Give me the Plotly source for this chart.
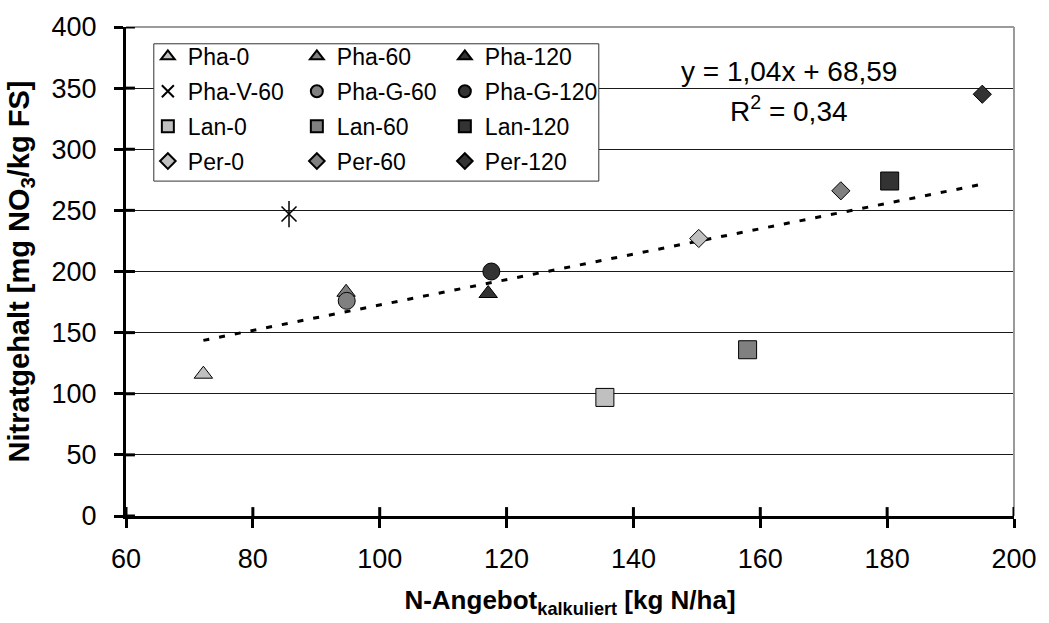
import plotly.graph_objects as go

# Variants and their measured values
variants = ["Pha-0", "Pha-60", "Pha-120",
            "Pha-V-60", "Pha-G-60", "Pha-G-120",
            "Lan-0", "Lan-60", "Lan-120",
            "Per-0", "Per-60", "Per-120"]
n_supply = [72.2, 94.7, 117.1,
            85.7, 94.8, 117.6,
            135.5, 158.0, 180.4,
            150.3, 172.7, 195.0]
nitrate = [116, 183, 182,
           247, 176, 200,
           97, 136, 274,
           227, 266, 345]

# Linear trend reported for the data
slope = 1.04
intercept = 68.59
r_squared = 0.34

x_ticks = [60, 80, 100, 120, 140, 160, 180, 200]
y_ticks = [0, 50, 100, 150, 200, 250, 300, 350, 400]

FONT = "Liberation Sans, Arial, sans-serif"
LIGHT, MID, DARK = "#c0c0c0", "#808080", "#333333"

styles = {
    "Pha-0": ("triangle-up", LIGHT, 16),
    "Pha-60": ("triangle-up", MID, 16),
    "Pha-120": ("triangle-up", DARK, 16),
    "Pha-V-60": ("x-thin-open", "black", 15),
    "Pha-G-60": ("circle", MID, 17),
    "Pha-G-120": ("circle", DARK, 17),
    "Lan-0": ("square", LIGHT, 18),
    "Lan-60": ("square", MID, 18),
    "Lan-120": ("square", DARK, 18),
    "Per-0": ("diamond", LIGHT, 14),
    "Per-60": ("diamond", MID, 14),
    "Per-120": ("diamond", DARK, 14),
}

W, H = 1049, 623
ml, mr, mt, mb = 126, 29, 21, 107
pw, ph = W - ml - mr, H - mt - mb
TICK_IN = 9  # inner half of the crossing tick marks, px


def px_x(p):
    return (p - ml) / pw


def px_y(p):
    return (H - mb - p) / ph


fig = go.Figure()

# trend line over the range of the data
x_fit = [min(n_supply), max(n_supply)]
y_fit = [slope * v + intercept for v in x_fit]
fig.add_trace(go.Scatter(
    x=x_fit, y=y_fit, mode="lines", showlegend=False, hoverinfo="skip",
    line=dict(color="black", width=3, dash="6px,10px"),
))

legend_ids = ["legend", "legend2", "legend3"]
for i, name in enumerate(variants):
    symbol, color, size = styles[name]
    if symbol.endswith("-open"):
        marker = dict(symbol=symbol, size=size, color="black",
                      line=dict(color="black", width=1.5))
    else:
        marker = dict(symbol=symbol, size=size, color=color,
                      line=dict(color="black", width=1))
    fig.add_trace(go.Scatter(
        x=[n_supply[i]], y=[nitrate[i]], mode="markers", name=name,
        marker=marker, legend=legend_ids[i % 3], legendgroup=name,
    ))
    if name == "Pha-V-60":
        # vertical stroke completing the star marker
        fig.add_trace(go.Scatter(
            x=[n_supply[i]], y=[nitrate[i]], mode="markers", showlegend=False,
            hoverinfo="skip",
            marker=dict(symbol="line-ns-open", size=size * 1.25, color="black",
                        line=dict(color="black", width=1.5)),
        ))

slope_txt = f"{slope:.2f}".replace(".", ",")
icpt_txt = f"{intercept:.2f}".replace(".", ",")
r2_txt = f"{r_squared:.2f}".replace(".", ",")

shapes = [
    # top and right frame of the plot area
    dict(type="line", xref="paper", yref="paper", x0=0, x1=1, y0=1, y1=1,
         line=dict(color="#9a9a9a", width=2), layer="above"),
    dict(type="line", xref="paper", yref="paper", x0=1, x1=1, y0=0, y1=1,
         line=dict(color="#9a9a9a", width=2), layer="above"),
    # legend box
    dict(type="rect", xref="paper", yref="paper",
         x0=px_x(154), x1=px_x(602), y0=px_y(177), y1=px_y(38),
         line=dict(color="#333333", width=1), fillcolor="white",
         layer="above"),
]
# inner halves of the tick marks, so that they cross the axis lines
for v in x_ticks:
    shapes.append(dict(type="line", xref="x", yref="paper", x0=v, x1=v,
                       y0=0, y1=TICK_IN / ph, layer="above",
                       line=dict(color="black", width=3)))
for v in y_ticks:
    shapes.append(dict(type="line", xref="paper", yref="y", y0=v, y1=v,
                       x0=0, x1=TICK_IN / pw, layer="above",
                       line=dict(color="black", width=3)))

legend_common = dict(
    font=dict(family=FONT, size=23, color="black"),
    bgcolor="rgba(0,0,0,0)", borderwidth=0, itemsizing="constant",
    xanchor="left", yanchor="top", tracegroupgap=2,
    y=px_y(29), itemclick=False, itemdoubleclick=False,
)

fig.update_layout(
    width=W, height=H,
    margin=dict(l=ml, r=mr, t=mt, b=mb),
    paper_bgcolor="white", plot_bgcolor="white",
    font=dict(family=FONT, size=27, color="black"),
    xaxis=dict(
        range=[60, 200], tickvals=x_ticks, ticks="outside", ticklen=9,
        tickwidth=3, tickcolor="black", showline=True, linewidth=3,
        linecolor="black", showgrid=False, zeroline=False,
        ticklabelstandoff=8,
        tickfont=dict(size=27),
        title=dict(text="<b>N-Angebot<sub>kalkuliert</sub> [kg N/ha]</b>",
                   font=dict(size=26), standoff=18),
    ),
    yaxis=dict(
        range=[0, 400], tickvals=y_ticks, ticks="outside", ticklen=9,
        tickwidth=3, tickcolor="black", showline=True, linewidth=3,
        linecolor="black", showgrid=True, gridcolor="#1a1a1a", gridwidth=1,
        zeroline=False, ticklabelstandoff=12,
        tickfont=dict(size=27),
        title=dict(text="<b>Nitratgehalt [mg NO<sub>3</sub>/kg FS]</b>",
                   font=dict(size=29), standoff=14),
    ),
    legend=dict(legend_common, x=px_x(148)),
    legend2=dict(legend_common, x=px_x(298)),
    legend3=dict(legend_common, x=px_x(447)),
    shapes=shapes,
    annotations=[
        dict(xref="paper", yref="paper", x=px_x(793), y=px_y(66),
             text=f"y = {slope_txt}x + {icpt_txt}", showarrow=False,
             font=dict(size=28), xanchor="center", yanchor="middle"),
        dict(xref="paper", yref="paper", x=px_x(793), y=px_y(104),
             text=f"R<sup>2</sup> = {r2_txt}", showarrow=False,
             font=dict(size=28), xanchor="center", yanchor="middle"),
    ],
)

fig.write_html("out.html")
